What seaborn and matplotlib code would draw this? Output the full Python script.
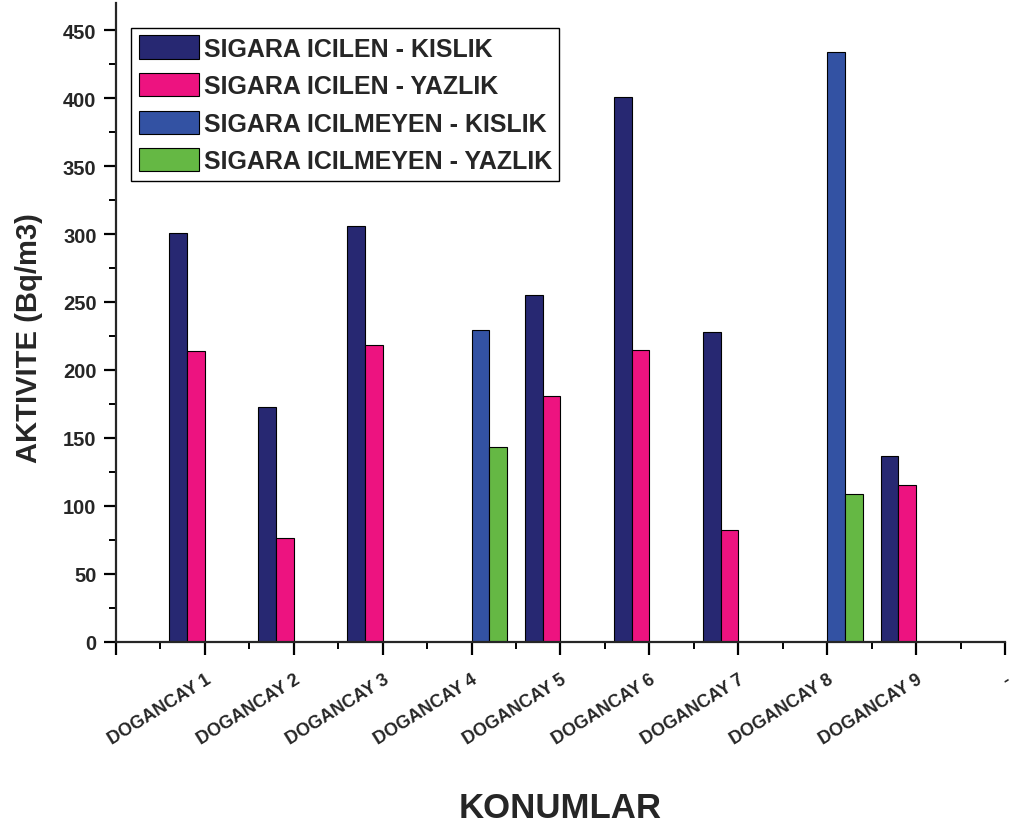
import matplotlib
matplotlib.use("Agg")
import matplotlib.pyplot as plt
from matplotlib.ticker import MultipleLocator, FixedLocator
import seaborn as sns
import pandas as pd
import numpy as np

sns.set_style("ticks")
plt.rcParams['font.family'] = ['Liberation Sans', 'DejaVu Sans']
plt.rcParams['font.weight'] = 'bold'

# =-= Data =-= #

SITES = ["DOGANCAY 1", "DOGANCAY 2", "DOGANCAY 3", "DOGANCAY 4", "DOGANCAY 5",
         "DOGANCAY 6", "DOGANCAY 7", "DOGANCAY 8", "DOGANCAY 9"]
SERIES = ["SIGARA ICILEN - KISLIK", "SIGARA ICILEN - YAZLIK",
          "SIGARA ICILMEYEN - KISLIK", "SIGARA ICILMEYEN - YAZLIK"]

smoker_winter = [301, 173, 306, np.nan, 255, 401, 228, np.nan, 137]
smoker_summer = [214, 76, 218, np.nan, 181, 215, 82, np.nan, 115]
nonsmoker_winter = [np.nan, np.nan, np.nan, 229, np.nan, np.nan, np.nan, 434, np.nan]
nonsmoker_summer = [np.nan, np.nan, np.nan, 143, np.nan, np.nan, np.nan, 109, np.nan]

COLORS = ["#272872", "#ED1380", "#3352A3", "#65B844"]

# empty slot on the left and a "-" slot on the right, like the original axis
ORDER = [""] + SITES + ["-"]

rows = []
for name, vals in zip(SERIES, [smoker_winter, smoker_summer, nonsmoker_winter, nonsmoker_summer]):
    for site, v in zip(SITES, vals):
        if not np.isnan(v):
            rows.append((site, name, v))
data = pd.DataFrame(rows, columns=["site", "series", "value"])

# =-= Plotting =-= #

fig = plt.figure(figsize=(10.14, 8.28), dpi=100)
ax = fig.add_axes([0.1144, 0.2238, 0.8767, 0.7714])

sns.barplot(data=data, x="site", y="value", hue="series", order=ORDER,
            hue_order=SERIES, palette=COLORS, errorbar=None, width=0.8,
            edgecolor="black", linewidth=0.8, saturation=1, ax=ax)

ax.set_xlim(0, 10)
ax.set_ylim(0, 470)
ax.yaxis.set_major_locator(MultipleLocator(50))
ax.yaxis.set_minor_locator(MultipleLocator(25))
ax.xaxis.set_minor_locator(FixedLocator(np.arange(0.5, 10, 1)))

sns.despine(ax=ax)
for s in ["left", "bottom"]:
    ax.spines[s].set_linewidth(1.6)

ax.tick_params(axis="both", which="major", direction="out", width=1.6, length=9,
               color="black")
ax.tick_params(axis="both", which="minor", direction="out", width=1.4, length=5,
               color="black")
ax.tick_params(axis="y", which="major", labelsize=14.5, pad=5)
ax.tick_params(axis="x", which="major", labelsize=13, pad=12)

for lbl in ax.get_yticklabels():
    lbl.set_fontweight("bold")
for lbl in ax.get_xticklabels():
    lbl.set_fontweight("bold")
    lbl.set_rotation(32)
    lbl.set_ha("right")
    lbl.set_rotation_mode("anchor")

ax.set_ylabel("AKTIVITE (Bq/m3)", fontsize=21, fontweight="bold")
ax.yaxis.set_label_coords(-0.082, 0.477)
ax.set_xlabel("KONUMLAR", fontsize=25, fontweight="bold")
ax.xaxis.set_label_coords(0.5, -0.234)

handles, labels = ax.get_legend_handles_labels()
leg = ax.legend(handles, labels, loc="upper left", bbox_to_anchor=(0.0169, 0.961),
                borderaxespad=0, handlelength=2.4, handleheight=1.05,
                labelspacing=0.5, handletextpad=0.2, borderpad=0.3,
                fancybox=False, framealpha=1, edgecolor="black",
                prop={"weight": "bold", "size": 18})
leg.get_frame().set_linewidth(1.0)

fig.savefig("out.png", dpi=100)
